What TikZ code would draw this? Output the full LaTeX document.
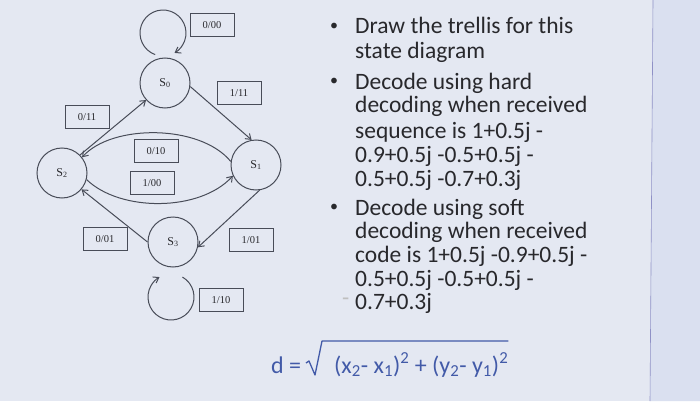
\documentclass[tikz,border=0pt]{standalone}
\usepackage{fontspec}
\setmainfont{Carlito}
\newfontfamily\serifdiag{Liberation Serif}
\usetikzlibrary{arrows.meta,calc}
\definecolor{bgcol}{RGB}{228,232,242}
\definecolor{stripcol}{RGB}{218,224,240}
\definecolor{linecol}{RGB}{72,76,88}
\definecolor{txtcol}{RGB}{40,40,44}
\definecolor{formblue}{RGB}{66,90,168}
\tikzset{
  state/.style={circle,draw=linecol,line width=1pt,minimum size=50pt,inner sep=0pt,font=\serifdiag\fontsize{12}{12}\selectfont,text=txtcol},
  lbl/.style={draw=linecol,line width=0.8pt,minimum width=44pt,minimum height=23pt,inner sep=0pt,font=\serifdiag\fontsize{10.5}{11}\selectfont,text=txtcol},
  conn/.style={line width=1pt,draw=linecol,-{Straight Barb[length=5pt,width=7pt]}},
  bline/.style={anchor=base west,font=\fontsize{23.5}{24}\selectfont,text=txtcol,inner sep=0pt},
  bdot/.style={font=\fontsize{16}{16}\selectfont,text=txtcol,inner sep=0pt},
  form/.style={anchor=base west,font=\fontsize{24}{26}\selectfont,text=formblue,inner sep=0pt}
}
\begin{document}
\begin{tikzpicture}[x=1pt,y=-1pt]
\useasboundingbox (0,0) rectangle (700,401);
\fill[bgcol] (0,0) rectangle (700,401);
\fill[stripcol] (653,0) -- (700,0) -- (700,401) -- (650,401) -- cycle;
\draw[color=stripcol!70!blue!60!gray,line width=0.6pt] (653,0) -- (650,401);

% states
\node[state] (S0) at (165,83) {S\textsubscript{0}};
\node[state] (S1) at (256,165) {S\textsubscript{1}};
\node[state] (S2) at (62,173) {S\textsubscript{2}};
\node[state] (S3) at (173,242) {S\textsubscript{3}};

% labels
\node[lbl] (l000) at (212,25) {0/00};
\node[lbl] (l111) at (239,93) {1/11};
\node[lbl] (l011) at (87,117) {0/11};
\node[lbl] (l010) at (156,151) {0/10};
\node[lbl] (l100) at (152,183) {1/00};
\node[lbl] (l001) at (105,239) {0/01};
\node[lbl] (l101) at (251,240) {1/01};
\node[lbl] (l110) at (221,300) {1/10};

% self loops (y axis points down, so angles are mirrored)
\coordinate (topstart) at ($(163,33)+(-250:23)$);
\draw[conn] (topstart) arc[start angle=-250,end angle=60,radius=23];
\coordinate (botstart) at ($(171,297)+(-60:23)$);
\draw[conn] (botstart) arc[start angle=-60,end angle=240,radius=23];

% transitions
\draw[conn] (S0.-8) -- (S1.100);
\draw[conn] (S2.45) -- (S0.222);
\draw[conn] (S1.172) .. controls (200,124) and (112,124) .. (S2.38);
\draw[conn] (S2.-15) .. controls (120,212) and (200,212) .. (S1.205);
\draw[conn] (S3.west) -- (S2.-40);
\draw[conn] (S1.-82) -- (S3.-12);

% bullet text
\foreach \y in {27,82,208} { \node[bdot] at (334,\y) {•}; }
\node[bline] (t1) at (355,34) {Draw the trellis for this};
\node[bline] (t2) at (355,59) {state diagram};
\node[bline] (t3) at (355,89) {Decode using hard};
\node[bline] (t4) at (355,113) {decoding when received};
\node[bline] (t5) at (355,138) {sequence is 1+0.5j -};
\node[bline] (t6) at (355,162) {0.9+0.5j -0.5+0.5j -};
\node[bline] (t7) at (355,186) {0.5+0.5j -0.7+0.3j};
\node[bline] (t8) at (355,215) {Decode using soft};
\node[bline] (t9) at (355,238) {decoding when received};
\node[bline] (t10) at (355,262) {code is 1+0.5j -0.9+0.5j -};
\node[bline] (t11) at (355,286) {0.5+0.5j -0.5+0.5j -};
\node[bline] (t12) at (355,309) {0.7+0.3j};
\node[bline,text=gray!50] (dash) at (342,305) {-};

% formula
\node[form] (fd) at (271,373) {d =};
\node[form] (fr) at (334,373) {(x\textsubscript{2}- x\textsubscript{1})\textsuperscript{2} + (y\textsubscript{2}- y\textsubscript{1})\textsuperscript{2}};
\draw[formblue,line width=1.3pt,line join=round] (306,363) -- (309,361) -- (315,375) -- (322,341) -- (fr.east |- 0,341);
\end{tikzpicture}
\end{document}
